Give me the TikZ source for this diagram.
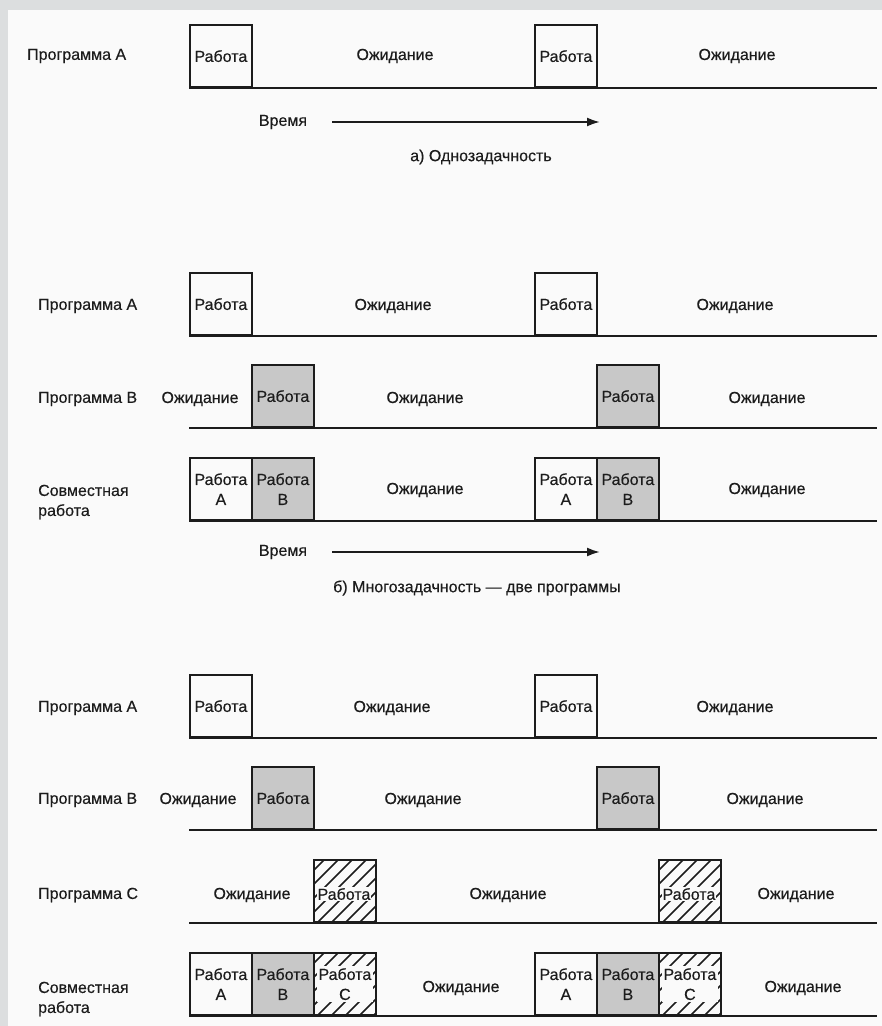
\documentclass[tikz,border=0pt]{standalone}
\usepackage{fontspec}
\setmainfont{Liberation Sans}
\newfontfamily\lblfont[FakeBold=0.35]{Liberation Sans}
\usetikzlibrary{arrows.meta}
\definecolor{bgc}{HTML}{FAFAFA}
\definecolor{stripc}{HTML}{DCDEDF}
\definecolor{ink}{HTML}{1C1C1C}
\definecolor{grayfill}{HTML}{C8C8C8}
\tikzset{
  lbl/.style={font=\lblfont\fontsize{16}{20}\selectfont, text=ink, inner sep=0pt, align=center},
  prog/.style={lbl, anchor=west, align=left},
  wbox/.style={draw=ink, line width=1.8pt, minimum width=62pt, minimum height=62pt,
    inner sep=0pt, font=\lblfont\fontsize{16}{20}\selectfont, text=ink, align=center, anchor=south west},
  gbox/.style={wbox, fill=grayfill},
  baseln/.style={draw=ink, line width=2.2pt},
  hatchln/.style={draw=ink, line width=1.7pt},
  knock/.style={lbl, fill=bgc, inner sep=1pt},
  tarrow/.style={draw=ink, line width=2pt, -{Latex[length=13pt,width=9pt]}}
}
\newcommand{\HatchFill}[3]{%
  \begin{scope}
    \clip (#1,#2) rectangle (#1+62,#3);
    \foreach \k in {-80,-66,...,66} \draw[hatchln] (#1+\k,#3) -- ++(80,-80);
  \end{scope}}
\begin{document}
\begin{tikzpicture}[x=1pt,y=-1pt]
\useasboundingbox (0,0) rectangle (882,1026);
\fill[bgc] (0,0) rectangle (882,1026);
\fill[stripc] (0,0) rectangle (882,10);
\fill[stripc] (0,0) rectangle (8,1026);

% ---------------- a) ----------------
\node[prog] (aLab) at (27,56) {Программа А};
\node[wbox] (aW1) at (189,88) {Работа};
\node[lbl] (aO1) at (395,56) {Ожидание};
\node[wbox] (aW2) at (534,88) {Работа};
\node[lbl] (aO2) at (737,56) {Ожидание};
\coordinate (aL0) at (189,88); \coordinate (aL1) at (877,88);
\draw[baseln] (aL0) -- (aL1);
\node[lbl] (aT) at (283,122) {Время};
\coordinate (aT0) at (332,122); \coordinate (aT1) at (600,122);
\draw[tarrow] (aT0) -- (aT1);
\node[lbl] (aCap) at (481,157) {а) Однозадачность};

% ---------------- b) ----------------
% row A
\node[prog] (bLabA) at (38,306) {Программа А};
\node[wbox] (bA1) at (189,336) {Работа};
\node[lbl] (bAO1) at (393,306) {Ожидание};
\node[wbox] (bA2) at (534,336) {Работа};
\node[lbl] (bAO2) at (735,306) {Ожидание};
\coordinate (bAL0) at (189,336); \coordinate (bAL1) at (877,336);
\draw[baseln] (bAL0) -- (bAL1);
% row B
\node[prog] (bLabB) at (38,399) {Программа В};
\node[lbl] (bBO0) at (200,399) {Ожидание};
\node[gbox] (bB1) at (251,428) {Работа};
\node[lbl] (bBO1) at (425,399) {Ожидание};
\node[gbox] (bB2) at (596,428) {Работа};
\node[lbl] (bBO2) at (767,399) {Ожидание};
\coordinate (bBL0) at (189,428); \coordinate (bBL1) at (877,428);
\draw[baseln] (bBL0) -- (bBL1);
% combined
\node[prog] (bLabS) at (38,502) {Совместная\\работа};
\node[wbox] (bSA1) at (189,521) {Работа\\А};
\node[gbox] (bSB1) at (251,521) {Работа\\В};
\node[lbl] (bSO1) at (425,490) {Ожидание};
\node[wbox] (bSA2) at (534,521) {Работа\\А};
\node[gbox] (bSB2) at (596,521) {Работа\\В};
\node[lbl] (bSO2) at (767,490) {Ожидание};
\coordinate (bSL0) at (189,521); \coordinate (bSL1) at (877,521);
\draw[baseln] (bSL0) -- (bSL1);
\node[lbl] (bT) at (283,552) {Время};
\coordinate (bT0) at (332,552); \coordinate (bT1) at (600,552);
\draw[tarrow] (bT0) -- (bT1);
\node[lbl] (bCap) at (477,588) {б) Многозадачность — две программы};

% ---------------- c) ----------------
% row A
\node[prog] (cLabA) at (38,708) {Программа А};
\node[wbox] (cA1) at (189,738) {Работа};
\node[lbl] (cAO1) at (392,708) {Ожидание};
\node[wbox] (cA2) at (534,738) {Работа};
\node[lbl] (cAO2) at (735,708) {Ожидание};
\coordinate (cAL0) at (189,738); \coordinate (cAL1) at (877,738);
\draw[baseln] (cAL0) -- (cAL1);
% row B
\node[prog] (cLabB) at (38,800) {Программа В};
\node[lbl] (cBO0) at (198,800) {Ожидание};
\node[gbox] (cB1) at (251,830) {Работа};
\node[lbl] (cBO1) at (423,800) {Ожидание};
\node[gbox] (cB2) at (596,830) {Работа};
\node[lbl] (cBO2) at (765,800) {Ожидание};
\coordinate (cBL0) at (189,830); \coordinate (cBL1) at (877,830);
\draw[baseln] (cBL0) -- (cBL1);
% row C
\node[prog] (cLabC) at (38,895) {Программа С};
\node[lbl] (cCO0) at (252,895) {Ожидание};
\HatchFill{313}{861}{923}
\node[wbox] (cC1) at (313,923) {};
\node[knock] (cC1t) at (344,894) {Работа};
\node[lbl] (cCO1) at (508,895) {Ожидание};
\HatchFill{658}{861}{923}
\node[wbox] (cC2) at (658,923) {};
\node[knock] (cC2t) at (689,894) {Работа};
\node[lbl] (cCO2) at (796,895) {Ожидание};
\coordinate (cCL0) at (189,923); \coordinate (cCL1) at (877,923);
\draw[baseln] (cCL0) -- (cCL1);
% combined
\node[prog] (cLabS) at (38,999) {Совместная\\работа};
\node[wbox] (cSA1) at (189,1016) {Работа\\А};
\node[gbox] (cSB1) at (251,1016) {Работа\\В};
\HatchFill{313}{954}{1016}
\node[wbox] (cSC1) at (313,1016) {};
\node[knock, minimum width=56pt, minimum height=36pt] (cSC1t) at (cSC1.center) {Работа\\С};
\node[lbl] (cSO1) at (461,988) {Ожидание};
\node[wbox] (cSA2) at (534,1016) {Работа\\А};
\node[gbox] (cSB2) at (596,1016) {Работа\\В};
\HatchFill{658}{954}{1016}
\node[wbox] (cSC2) at (658,1016) {};
\node[knock, minimum width=56pt, minimum height=36pt] (cSC2t) at (cSC2.center) {Работа\\С};
\node[lbl] (cSO2) at (803,988) {Ожидание};
\coordinate (cSL0) at (189,1016); \coordinate (cSL1) at (877,1016);
\draw[baseln] (cSL0) -- (cSL1);
\end{tikzpicture}
\end{document}
